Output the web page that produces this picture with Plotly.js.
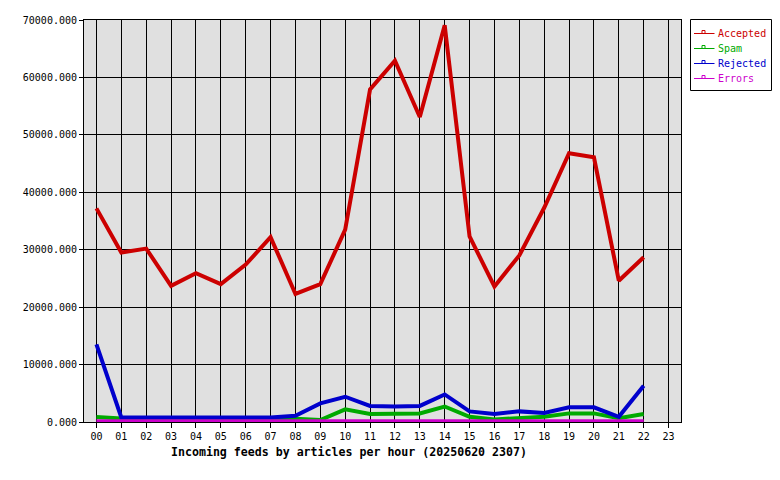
<!DOCTYPE html>
<html>
<head>
<meta charset="utf-8">
<script src="https://cdn.plot.ly/plotly-3.0.1.min.js"></script>
<style>html,body{margin:0;padding:0;background:#fff;}#chart{width:780px;height:480px;}</style>
</head>
<body>
<div id="chart"></div>
<script>
const hours = ['00','01','02','03','04','05','06','07','08','09','10','11','12','13','14','15','16','17','18','19','20','21','22','23'];
const dataHours = hours.slice(0, 23);
const accepted = [37200, 29500, 30200, 23700, 25900, 24000, 27400, 32200, 22300, 24000, 33500, 57900, 62900, 53100, 69100, 32300, 23600, 29000, 37300, 46800, 46100, 24600, 28700];
const spam     = [870, 600, 600, 600, 600, 600, 600, 600, 570, 350, 2200, 1400, 1400, 1500, 2700, 900, 450, 650, 900, 1500, 1500, 650, 1400];
const rejected = [13500, 800, 800, 800, 800, 800, 650, 800, 1100, 3250, 4400, 2800, 2700, 2800, 4800, 1850, 1400, 1850, 1570, 2550, 2550, 900, 6300];
const errors   = [150, 150, 150, 150, 150, 150, 150, 150, 150, 150, 150, 150, 150, 150, 150, 150, 150, 150, 150, 150, 150, 150, 150];
const seriesNames = ['Accepted', 'Spam', 'Rejected', 'Errors'];
const seriesColors = ['#cc0000', '#00aa00', '#0000cc', '#cc00cc'];
const seriesValues = [accepted, spam, rejected, errors];
const xTitle = 'Incoming feeds by articles per hour (20250620 2307)';

const font = 'DejaVu Sans Mono, monospace';
const W = 780, H = 480;
const M = {l: 84, r: 99, t: 20, b: 58};
const PW = W - M.l - M.r, PH = H - M.t - M.b;
const px = v => (v - M.l) / PW;          // pixel x -> paper x
const py = v => (H - M.b - v) / PH;      // pixel y -> paper y

const traces = seriesValues.map((vals, i) => ({
  x: dataHours, y: vals, type: 'scatter', mode: 'lines',
  name: seriesNames[i],
  line: {color: seriesColors[i], width: 4},
  showlegend: false, hoverinfo: 'skip'
}));

// legend box drawn as decoration
const shapes = [{
  type: 'rect', xref: 'paper', yref: 'paper',
  x0: px(690.5), x1: px(771.5), y0: py(19.5), y1: py(90.5),
  line: {color: '#000', width: 1}, fillcolor: '#fff', layer: 'above'
}];
const annotations = [{
  text: '<b>' + xTitle + '</b>',
  xref: 'paper', yref: 'paper',
  x: px(348.5), y: py(452),
  xanchor: 'center', yanchor: 'middle', showarrow: false,
  font: {family: font, size: 11.6, color: '#000'}
}];
seriesNames.forEach((name, i) => {
  const yc = 33.5 + 15 * i;
  shapes.push({
    type: 'line', xref: 'paper', yref: 'paper',
    x0: px(694), x1: px(714.5), y0: py(yc), y1: py(yc),
    line: {color: seriesColors[i], width: 1}, layer: 'above'
  });
  shapes.push({
    type: 'rect', xref: 'paper', yref: 'paper',
    x0: px(702), x1: px(705), y0: py(yc), y1: py(yc - 3),
    line: {color: seriesColors[i], width: 1}, fillcolor: '#fff', layer: 'above'
  });
  annotations.push({
    text: name, xref: 'paper', yref: 'paper',
    x: px(716), y: py(yc), xanchor: 'left', yanchor: 'middle',
    showarrow: false, font: {family: font, size: 10, color: seriesColors[i]}
  });
});

const layout = {
  width: W, height: H,
  margin: {l: M.l, r: M.r, t: M.t, b: M.b, pad: 0, autoexpand: false},
  paper_bgcolor: '#ffffff',
  plot_bgcolor: '#e0e0e0',
  font: {family: font, size: 10, color: '#000'},
  showlegend: false,
  xaxis: {
    type: 'category', categoryorder: 'array', categoryarray: hours,
    tickvals: hours, ticktext: hours,
    range: [-0.5, 23.5],
    showgrid: true, gridcolor: '#000', gridwidth: 1,
    showline: true, linecolor: '#000', linewidth: 1, mirror: true,
    ticks: 'outside', ticklen: 5, tickcolor: '#000', tickwidth: 1,
    tickfont: {family: font, size: 10},
    zeroline: false, automargin: false
  },
  yaxis: {
    range: [0, 70000], dtick: 10000, tick0: 0,
    tickformat: '.3f',
    showgrid: true, gridcolor: '#000', gridwidth: 1,
    showline: true, linecolor: '#000', linewidth: 1, mirror: true,
    ticks: 'outside', ticklen: 4, tickcolor: '#000', tickwidth: 1,
    tickfont: {family: font, size: 10},
    zeroline: false, automargin: false
  },
  shapes: shapes,
  annotations: annotations
};

Plotly.newPlot('chart', traces, layout, {displayModeBar: false, staticPlot: true});
</script>
</body>
</html>
